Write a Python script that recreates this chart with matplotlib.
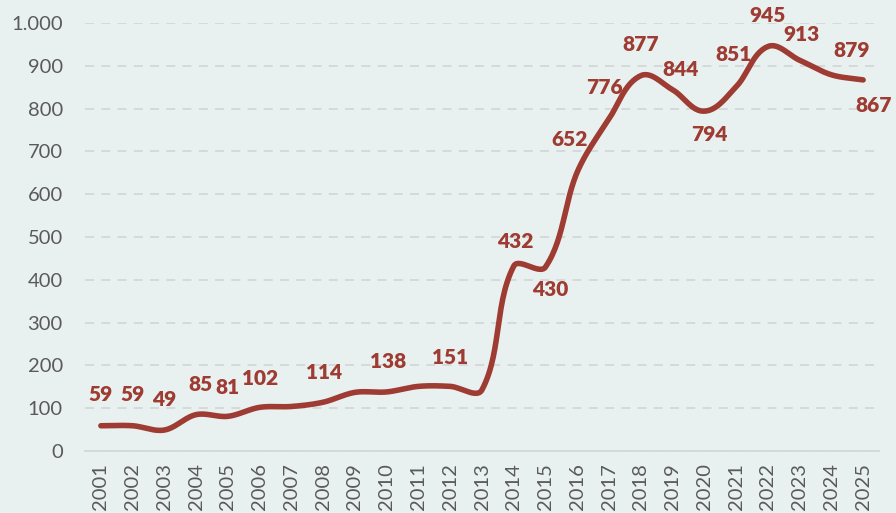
import matplotlib
matplotlib.use("Agg")
import matplotlib.pyplot as plt
import numpy as np
from matplotlib.ticker import FuncFormatter

plt.rcParams['font.family'] = ['Lato', 'DejaVu Sans']

years = [str(y) for y in range(2001, 2026)]
values = [59, 59, 49, 85, 81, 102, 104, 114, 137, 138, 151, 151, 143, 432, 430,
          652, 776, 877, 844, 794, 851, 945, 913, 879, 867]
labeled = [True, True, True, True, True, True, False, True, False, True, False, True, False,
           True, True, True, True, True, True, True, True, True, True, True, True]
# label placement offsets in pixels (dx, dy)
offsets = {0: (0, 31), 1: (0, 31), 2: (0, 31), 3: (4, 30), 4: (0, 29), 5: (0, 29),
           7: (1, 30), 9: (1, 30), 11: (0, 29), 13: (2, 25), 14: (5, -23),
           15: (-8, 32), 16: (-5, 31), 17: (0, 31), 18: (8, 20), 19: (5, -23),
           20: (-3, 32), 21: (0, 31), 22: (2, 26), 23: (20, 24), 24: (11, -26)}

BG = '#E9F1F0'
RED = '#9E3B32'

L, R, T, B = 85, 879, 23, 451
fig = plt.figure(figsize=(8.96, 5.13), dpi=100, facecolor=BG)
ax = fig.add_axes([L/896, 1-B/513, (R-L)/896, (B-T)/513])
ax.set_facecolor(BG)

x = np.arange(len(values))
y = np.array(values, dtype=float)

# Smoothed line (Bezier, tangent from neighbours, arm proportional to segment length in pixels)
def smooth(xp, yp, sxp, syp, n=30, k=0.33):
    P = np.column_stack([xp * sxp, yp * syp])
    m = len(P)
    tang = np.zeros_like(P)
    for i in range(m):
        a = P[max(i-1, 0)]
        b = P[min(i+1, m-1)]
        d = b - a
        tang[i] = d / np.linalg.norm(d)
    out = []
    for i in range(m - 1):
        p1, p2 = P[i], P[i+1]
        seg = np.linalg.norm(p2 - p1)
        c1 = p1 + tang[i] * seg * k
        c2 = p2 - tang[i+1] * seg * k
        s = np.linspace(0, 1, n)[:, None]
        pts = (1-s)**3*p1 + 3*(1-s)**2*s*c1 + 3*(1-s)*s**2*c2 + s**3*p2
        out.append(pts if i == 0 else pts[1:])
    out = np.vstack(out)
    return out[:, 0] / sxp, out[:, 1] / syp

px_x = (R - L) / len(values)
px_y = (B - T) / 1000
sx, sy = smooth(x, y, px_x, px_y)
ax.plot(sx, sy, color=RED, lw=4.0, solid_capstyle='round', solid_joinstyle='round', zorder=3)

for i, v in enumerate(values):
    if labeled[i]:
        dx, dy = offsets.get(i, (0, 30))
        ax.annotate(f"{v}", (i, v), xytext=(dx*0.72, dy*0.72), textcoords='offset points',
                    ha='center', va='center', fontsize=15, fontweight='heavy', color=RED,
                    annotation_clip=False, zorder=4)

ax.set_xlim(-0.5, len(values) - 0.5)
ax.set_ylim(0, 1000)
ax.set_yticks(range(0, 1001, 100))
ax.yaxis.set_major_formatter(FuncFormatter(lambda v, p: f"{int(v):,}".replace(",", ".")))
ax.set_xticks(x)
ax.set_xticklabels(years, rotation=90)
ax.grid(axis='y', color='#D5D7D7', linestyle=(0, (5, 4)), lw=1.3)
ax.set_axisbelow(True)
for s in ['top', 'right', 'left']:
    ax.spines[s].set_visible(False)
ax.spines['bottom'].set_color('#D5D7D7')
ax.spines['bottom'].set_linewidth(1.3)
ax.tick_params(axis='both', length=0, colors='#5A5A5A', labelsize=14.5)
ax.tick_params(axis='y', pad=16)
ax.tick_params(axis='x', pad=9, labelsize=14.5)
fig.savefig("out.png", dpi=100, facecolor=BG)
